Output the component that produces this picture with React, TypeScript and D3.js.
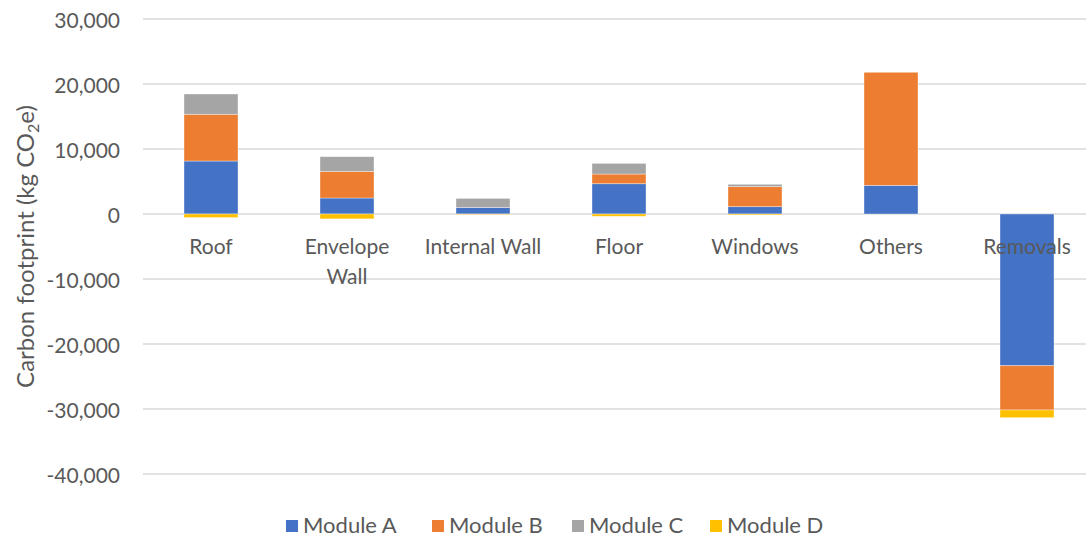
import React from "react";
import * as d3 from "d3";

const categories = ["Roof", "Envelope Wall", "Internal Wall", "Floor", "Windows", "Others", "Removals"];
const categoryLines = [["Roof"], ["Envelope", "Wall"], ["Internal Wall"], ["Floor"], ["Windows"], ["Others"], ["Removals"]];
const seriesNames = ["Module A", "Module B", "Module C", "Module D"];
const moduleA = [8150, 2460, 1000, 4660, 1130, 4410, -23340];
const moduleB = [7190, 4100, 0, 1490, 3080, 17390, -6815];
const moduleC = [3120, 2260, 1400, 1640, 360, 0, 0];
const moduleD = [-550, -750, -80, -350, -150, 0, -1180];
const yTicks = [30000, 20000, 10000, 0, -10000, -20000, -30000, -40000];
const colors = ["#4472C4", "#ED7D31", "#A5A5A5", "#FFC000"];

const W = 1086;
const H = 539;
const FONT = "Lato, 'Open Sans', sans-serif";
const TEXT = "#595959";

export default function App() {
  const rows = categories.map((c, i) => ({
    cat: c,
    "Module A": moduleA[i],
    "Module B": moduleB[i],
    "Module C": moduleC[i],
    "Module D": moduleD[i],
  }));
  const stacked = d3
    .stack<any>()
    .keys(seriesNames)
    .offset(d3.stackOffsetDiverging)(rows);

  const x = d3
    .scaleBand<string>()
    .domain(categories)
    .range([143, 1095])
    .paddingInner(0.603)
    .paddingOuter(0.3015);
  const y = d3.scaleLinear().domain([-40000, 30000]).range([474, 19]);
  const fmt = (v: number) => d3.format(",")(v).replace("\u2212", "-");

  const legendX = [286, 432, 572, 710];

  return (
    <svg
      width={W}
      height={H}
      style={{ position: "absolute", left: 0, top: 0, background: "#fff" }}
      fontFamily={FONT}
    >
      <rect x={0} y={0} width={W} height={H} fill="#fff" />
      {yTicks.map((t) => (
        <g key={t}>
          <line x1={143} x2={W} y1={y(t)} y2={y(t)} stroke="#d9d9d9" strokeWidth={1.4} />
          <text x={120} y={y(t) + 8.5} textAnchor="end" fontSize={21} fill={TEXT}>
            {fmt(t)}
          </text>
        </g>
      ))}
      {stacked.map((s, si) => (
        <g key={s.key} fill={colors[si]}>
          {s.map((d, i) => {
            const y0 = y(d[0]);
            const y1 = y(d[1]);
            const h = Math.abs(y0 - y1);
            if (h <= 0) return null;
            return (
              <rect
                key={i}
                x={x(categories[i])}
                y={Math.min(y0, y1)}
                width={x.bandwidth()}
                height={h}
                stroke="rgba(255,255,255,0.45)"
                strokeWidth={0.8}
              />
            );
          })}
        </g>
      ))}
      {categories.map((c, i) => (
        <text
          key={c}
          x={(x(c) as number) + x.bandwidth() / 2}
          textAnchor="middle"
          fontSize={21}
          fill={TEXT}
        >
          {categoryLines[i].map((ln, k) => (
            <tspan key={k} x={(x(c) as number) + x.bandwidth() / 2} y={254 + k * 29.5}>
              {ln}
            </tspan>
          ))}
        </text>
      ))}
      <text
        transform={`translate(34, ${y(-5000)}) rotate(-90)`}
        textAnchor="middle"
        fontSize={24}
        fill={TEXT}
      >
        Carbon footprint (kg CO
        <tspan fontSize={16} dy={5}>2</tspan>
        <tspan dy={-5}>e)</tspan>
      </text>
      {seriesNames.map((n, i) => (
        <g key={n}>
          <rect x={legendX[i]} y={520} width={12} height={12} fill={colors[i]} />
          <text x={legendX[i] + 17} y={533} fontSize={22} fill={TEXT}>
            {n}
          </text>
        </g>
      ))}
    </svg>
  );
}
